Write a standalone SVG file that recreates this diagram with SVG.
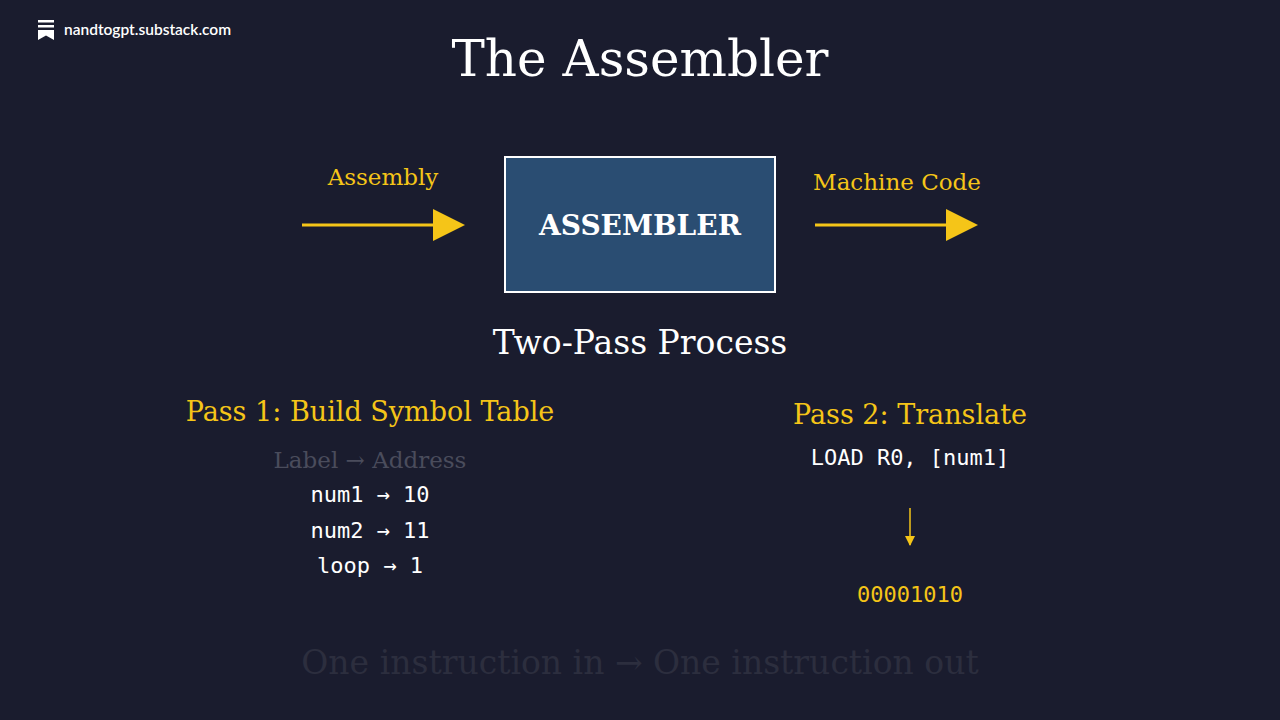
<svg xmlns="http://www.w3.org/2000/svg" width="1280" height="720" viewBox="0 0 1280 720">
<defs>
<style>
.serif{font-family:"DejaVu Serif","Liberation Serif",serif}
.mono{font-family:"DejaVu Sans Mono","Liberation Mono",monospace}
.y{fill:#f5c518}
.w{fill:#ffffff}
</style>
<marker id="ah" markerWidth="10" markerHeight="10" refX="9" refY="5" orient="auto" markerUnits="userSpaceOnUse"><path d="M0,0 L10,5 L0,10 Z" fill="#f5c518"/></marker>
</defs>
<rect width="1280" height="720" fill="#1a1c2e"/>
<g id="logo">
<rect x="38" y="20" width="16" height="2.5" fill="#fff"/>
<rect x="38" y="25" width="16" height="2.5" fill="#fff"/>
<path d="M38,30 H54 V40 L46,35.5 L38,40 Z" fill="#fff"/>
<text x="64" y="35" font-family="Lato,'Noto Sans',sans-serif" font-size="15.5" font-weight="600" class="w">nandtogpt.substack.com</text>
</g>
<text x="640" y="76" text-anchor="middle" class="serif w" font-size="50">The Assembler</text>
<g id="assembler">
<rect x="505" y="157" width="270" height="135" fill="#2a4d72" stroke="#ffffff" stroke-width="2"/>
<text x="640" y="235" text-anchor="middle" class="serif w" font-size="28" font-weight="bold">ASSEMBLER</text>
</g>
<text x="383" y="185" text-anchor="middle" class="serif y" font-size="23">Assembly</text>
<text x="897" y="190" text-anchor="middle" class="serif y" font-size="23">Machine Code</text>
<g id="connectors">
<line x1="302" y1="225" x2="433" y2="225" stroke="#f5c518" stroke-width="3"/>
<path d="M433,209 L465,225 L433,241 Z" fill="#f5c518"/>
<line x1="815" y1="225" x2="946" y2="225" stroke="#f5c518" stroke-width="3"/>
<path d="M946,209 L978,225 L946,241 Z" fill="#f5c518"/>
<line x1="910" y1="508" x2="910" y2="545" stroke="#f5c518" stroke-width="1.5" marker-end="url(#ah)"/>
</g>
<text x="640" y="354" text-anchor="middle" class="serif w" font-size="33">Two-Pass Process</text>
<text x="370" y="421" text-anchor="middle" class="serif y" font-size="27">Pass 1: Build Symbol Table</text>
<text x="370" y="468" text-anchor="middle" class="serif" fill="#4a4c5c" font-size="23">Label → Address</text>
<text x="370" y="502" text-anchor="middle" class="mono w" font-size="22">num1 → 10</text>
<text x="370" y="538" text-anchor="middle" class="mono w" font-size="22">num2 → 11</text>
<text x="370" y="573" text-anchor="middle" class="mono w" font-size="22">loop → 1</text>
<text x="910" y="424" text-anchor="middle" class="serif y" font-size="27">Pass 2: Translate</text>
<text x="910" y="465" text-anchor="middle" class="mono w" font-size="22">LOAD R0, [num1]</text>
<text x="910" y="602" text-anchor="middle" class="mono y" font-size="22">00001010</text>
<text x="640" y="674" text-anchor="middle" class="serif" fill="#2c2e3e" font-size="33">One instruction in → One instruction out</text>
</svg>
